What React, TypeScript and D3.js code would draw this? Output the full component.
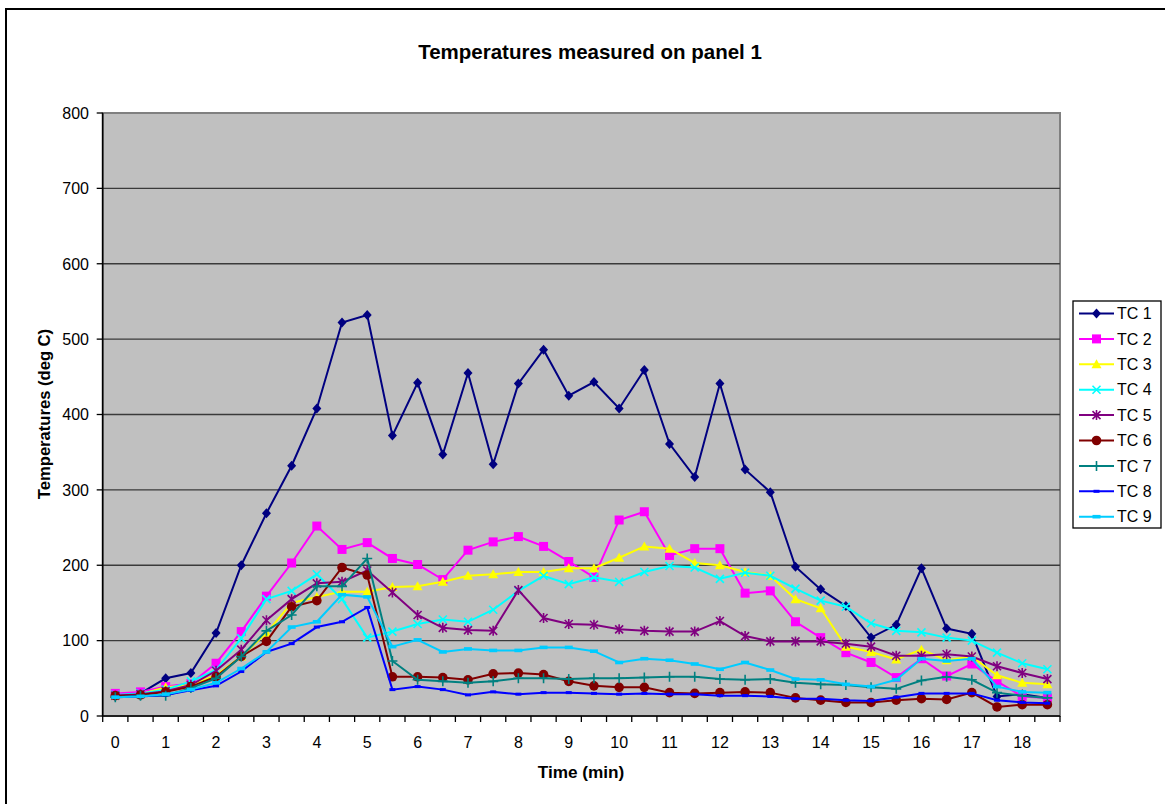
import * as d3 from "d3";

// time axis categories (minutes), one reading every half minute
const times = [
  0, 0.5, 1, 1.5, 2, 2.5, 3, 3.5, 4, 4.5, 5, 5.5, 6, 6.5, 7, 7.5, 8, 8.5, 9, 9.5,
  10, 10.5, 11, 11.5, 12, 12.5, 13, 13.5, 14, 14.5, 15, 15.5, 16, 16.5, 17, 17.5, 18, 18.5,
];

const yTicks = [0, 100, 200, 300, 400, 500, 600, 700, 800];

const tc1 = [28, 30, 50, 57, 110, 200, 269, 332, 408, 522, 532, 372, 442, 347, 455, 334, 441, 486, 425, 443, 408, 459, 361, 317, 441, 327, 297, 198, 168, 146, 104, 121, 196, 116, 109, 26, 29, 24];
const tc2 = [30, 32, 39, 43, 70, 112, 159, 203, 252, 221, 230, 209, 201, 181, 220, 231, 238, 225, 205, 184, 260, 271, 213, 222, 222, 163, 166, 125, 104, 84, 71, 51, 76, 53, 69, 46, 26, 24];
const tc3 = [27, 29, 38, 41, 54, 79, 110, 150, 158, 165, 165, 171, 172, 178, 186, 188, 191, 191, 196, 196, 210, 225, 222, 203, 200, 191, 186, 155, 143, 92, 85, 75, 88, 74, 79, 54, 44, 42];
const tc4 = [28, 30, 35, 46, 61, 103, 155, 166, 188, 155, 104, 112, 122, 128, 125, 141, 166, 186, 175, 184, 178, 191, 199, 197, 182, 190, 186, 169, 153, 145, 123, 113, 111, 104, 100, 84, 70, 62];
const tc5 = [27, 29, 33, 41, 60, 88, 127, 155, 176, 178, 193, 164, 134, 117, 114, 113, 167, 130, 122, 121, 115, 113, 112, 112, 126, 106, 99, 99, 99, 96, 92, 80, 80, 82, 79, 66, 57, 49];
const tc6 = [27, 28, 32, 39, 52, 79, 99, 145, 153, 197, 187, 52, 52, 51, 48, 56, 57, 55, 46, 40, 38, 38, 31, 30, 31, 32, 31, 24, 21, 18, 18, 21, 23, 22, 31, 12, 15, 15];
const tc7 = [25, 27, 27, 37, 50, 79, 113, 134, 172, 172, 209, 73, 48, 46, 44, 46, 50, 50, 49, 50, 50, 51, 52, 52, 49, 48, 49, 44, 42, 41, 38, 36, 47, 52, 48, 31, 27, 24];
const tc8 = [25, 26, 28, 34, 40, 59, 85, 96, 118, 125, 144, 35, 39, 35, 28, 32, 29, 31, 31, 30, 29, 30, 29, 29, 27, 27, 26, 23, 23, 21, 20, 25, 30, 30, 30, 21, 18, 17];
const tc9 = [25, 26, 29, 35, 44, 63, 85, 118, 125, 161, 158, 92, 101, 85, 89, 87, 87, 91, 91, 86, 71, 76, 74, 69, 62, 71, 61, 49, 48, 42, 39, 48, 76, 73, 76, 39, 32, 31];

const seriesNames = ["TC 1", "TC 2", "TC 3", "TC 4", "TC 5", "TC 6", "TC 7", "TC 8", "TC 9"];

type Marker = "diamond" | "square" | "triangle" | "x" | "star" | "circle" | "plus" | "dash" | "bar";

const series: { name: string; values: number[]; color: string; marker: Marker }[] = [
  { name: seriesNames[0], values: tc1, color: "#000080", marker: "diamond" },
  { name: seriesNames[1], values: tc2, color: "#FF00FF", marker: "square" },
  { name: seriesNames[2], values: tc3, color: "#FFFF00", marker: "triangle" },
  { name: seriesNames[3], values: tc4, color: "#00FFFF", marker: "x" },
  { name: seriesNames[4], values: tc5, color: "#800080", marker: "star" },
  { name: seriesNames[5], values: tc6, color: "#800000", marker: "circle" },
  { name: seriesNames[6], values: tc7, color: "#008080", marker: "plus" },
  { name: seriesNames[7], values: tc8, color: "#0000FF", marker: "dash" },
  { name: seriesNames[8], values: tc9, color: "#00CCFF", marker: "bar" },
];

const FONT = "'Liberation Sans', Arial, Helvetica, sans-serif";

function MarkerShape({ kind, x, y, color }: { kind: Marker; x: number; y: number; color: string }) {
  const r = 4.5;
  switch (kind) {
    case "diamond":
      return <path d={`M${x},${y - r - 0.5}L${x + r},${y}L${x},${y + r + 0.5}L${x - r},${y}Z`} fill={color} />;
    case "square":
      return <rect x={x - 4.5} y={y - 4.5} width={9} height={9} fill={color} />;
    case "triangle":
      return <path d={`M${x},${y - 5}L${x + 5},${y + 4}L${x - 5},${y + 4}Z`} fill={color} />;
    case "circle":
      return <circle cx={x} cy={y} r={4.8} fill={color} />;
    case "x":
      return (
        <path d={`M${x - 4},${y - 4}L${x + 4},${y + 4}M${x - 4},${y + 4}L${x + 4},${y - 4}`} stroke={color} strokeWidth={1.6} fill="none" />
      );
    case "star":
      return (
        <path
          d={`M${x - 4},${y - 4}L${x + 4},${y + 4}M${x - 4},${y + 4}L${x + 4},${y - 4}M${x},${y - 5}L${x},${y + 5}`}
          stroke={color}
          strokeWidth={1.6}
          fill="none"
        />
      );
    case "plus":
      return <path d={`M${x - 5},${y}L${x + 5},${y}M${x},${y - 5}L${x},${y + 5}`} stroke={color} strokeWidth={1.6} fill="none" />;
    case "dash":
      return <rect x={x - 3} y={y - 1.5} width={6} height={3} fill={color} />;
    case "bar":
      return <rect x={x - 4} y={y - 1.8} width={8} height={3.6} fill={color} />;
  }
}

export default function App() {
  const width = 1165;
  const height = 804;
  const plot = { left: 102.7, right: 1060, top: 113, bottom: 716 };

  const x = d3
    .scaleBand<number>()
    .domain(times)
    .range([plot.left, plot.right])
    .paddingInner(0)
    .paddingOuter(0);
  const y = d3.scaleLinear().domain([0, 800]).range([plot.bottom, plot.top]);
  const cx = (t: number) => (x(t) ?? 0) + x.bandwidth() / 2;

  const line = d3
    .line<number>()
    .x((_, i) => cx(times[i]))
    .y((d) => y(d));

  const boundaries = [...times.map((t) => x(t) ?? 0), plot.right];

  const legend = { x: 1073, y: 301, w: 88, h: 227, row: 25.4 };

  return (
    <svg
      width={width}
      height={height}
      style={{ position: "absolute", left: 0, top: 0, background: "#fff" }}
      fontFamily={FONT}
    >
      <rect x={6} y={9} width={1200} height={840} fill="#fff" stroke="#000" strokeWidth={2} />

      <text x={590} y={59} textAnchor="middle" fontSize={20.5} fontWeight="bold">
        Temperatures measured on panel 1
      </text>

      {/* plot area */}
      <rect x={plot.left} y={plot.top} width={plot.right - plot.left} height={plot.bottom - plot.top} fill="#C0C0C0" stroke="#808080" strokeWidth={2} />

      {yTicks.slice(1).map((v) => (
        <line key={v} x1={plot.left} x2={plot.right} y1={y(v)} y2={y(v)} stroke={v === 800 ? "#808080" : "#3a3a3a"} strokeWidth={1.3} />
      ))}

      {/* y axis */}
      <line x1={plot.left} x2={plot.left} y1={plot.top} y2={plot.bottom} stroke="#000" strokeWidth={1.5} />
      {yTicks.map((v) => (
        <g key={v}>
          <line x1={plot.left - 6} x2={plot.left} y1={y(v)} y2={y(v)} stroke="#000" strokeWidth={1.3} />
          <text x={89} y={y(v)} dy="0.36em" textAnchor="end" fontSize={16}>
            {v}
          </text>
        </g>
      ))}

      {/* x axis */}
      <line x1={plot.left} x2={plot.right} y1={plot.bottom} y2={plot.bottom} stroke="#000" strokeWidth={1.5} />
      {boundaries.map((bx, i) => (
        <line key={i} x1={bx} x2={bx} y1={plot.bottom} y2={plot.bottom + 6} stroke="#000" strokeWidth={1.3} />
      ))}
      {times
        .filter((t) => Number.isInteger(t))
        .map((t) => (
          <text key={t} x={cx(t)} y={748} textAnchor="middle" fontSize={16}>
            {t}
          </text>
        ))}

      <text x={581} y={778} textAnchor="middle" fontSize={17.2} fontWeight="bold">
        Time (min)
      </text>
      <text transform={`translate(50,414) rotate(-90)`} textAnchor="middle" fontSize={16.6} fontWeight="bold">
        Temperatures (deg C)
      </text>

      {/* series */}
      {series.map((s) => (
        <g key={s.name}>
          <path d={line(s.values) ?? ""} fill="none" stroke={s.color} strokeWidth={2} />
          {s.values.map((v, i) => (
            <MarkerShape key={i} kind={s.marker} x={cx(times[i])} y={y(v)} color={s.color} />
          ))}
        </g>
      ))}

      {/* legend */}
      <rect x={legend.x} y={legend.y} width={legend.w} height={legend.h} fill="#fff" stroke="#000" strokeWidth={1.3} />
      {series.map((s, i) => {
        const ly = legend.y + 12.5 + i * legend.row;
        return (
          <g key={s.name}>
            <line x1={1079} x2={1114} y1={ly} y2={ly} stroke={s.color} strokeWidth={2} />
            <MarkerShape kind={s.marker} x={1096.5} y={ly} color={s.color} />
            <text x={1117} y={ly} dy="0.36em" fontSize={16}>
              {s.name}
            </text>
          </g>
        );
      })}
    </svg>
  );
}
